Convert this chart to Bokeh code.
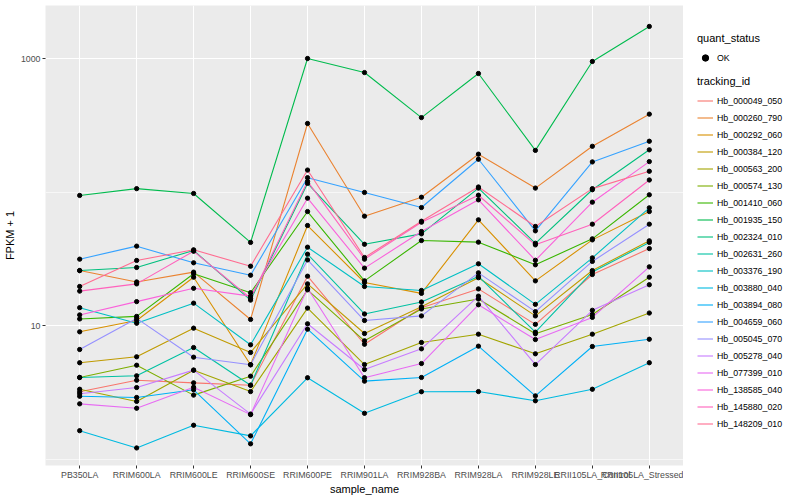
from bokeh.plotting import figure
from bokeh.layouts import row
from bokeh.models import (FactorRange, Range1d, FixedTicker, NumeralTickFormatter,
                          Legend, LegendItem)
from bokeh.embed import file_html
from bokeh.resources import INLINE

samples = ["PB350LA", "RRIM600LA", "RRIM600LE", "RRIM600SE", "RRIM600PE",
           "RRIM901LA", "RRIM928BA", "RRIM928LA", "RRIM928LE",
           "RRII105LA_Control", "RRII105LA_Stressed"]

tracking_ids = ["Hb_000049_050", "Hb_000260_790", "Hb_000292_060", "Hb_000384_120",
                "Hb_000563_200", "Hb_000574_130", "Hb_001410_060", "Hb_001935_150",
                "Hb_002324_010", "Hb_002631_260", "Hb_003376_190", "Hb_003880_040",
                "Hb_003894_080", "Hb_004659_060", "Hb_005045_070", "Hb_005278_040",
                "Hb_077399_010", "Hb_138585_040", "Hb_145880_020", "Hb_148209_010"]

colors = ["#F8766D", "#EA8331", "#D89000", "#C09B00", "#A3A500", "#7CAE00",
          "#39B600", "#00BB4E", "#00BF7D", "#00C1A3", "#00BFC4", "#00BAE0",
          "#00B0F6", "#35A2FF", "#9590FF", "#C77CFF", "#E76BF3", "#FA62DB",
          "#FF62BC", "#FF6C91"]

# FPKM + 1 per sample, one list per tracking_id
hb_000049_050 = [3.19, 3.89, 3.72, 3.57, 23.4, 7.24, 13.6, 18.8, 10.2, 24.1, 37.7]
hb_000260_790 = [25.8, 21.2, 25.1, 11.1, 326, 65.9, 91.4, 192, 107, 220, 383]
hb_000292_060 = [8.97, 10.9, 23.0, 5.08, 56.1, 21.0, 17.4, 61.9, 21.6, 43.8, 71.4]
hb_000384_120 = [5.26, 5.83, 9.55, 6.28, 20.5, 8.71, 13.8, 22.8, 11.8, 25.8, 43.1]
hb_000563_200 = [3.33, 2.70, 4.63, 3.20, 13.5, 5.10, 7.46, 8.61, 6.14, 8.61, 12.4]
hb_000574_130 = [4.08, 5.04, 3.01, 4.17, 18.5, 7.68, 13.3, 15.8, 8.67, 12.1, 23.0]
hb_001410_060 = [11.2, 11.7, 24.4, 17.6, 71.4, 21.6, 43.3, 42.1, 28.5, 44.6, 95.3]
hb_001935_150 = [94.2, 106, 97.5, 41.9, 1000, 785, 361, 772, 205, 950, 1738]
hb_002324_010 = [25.8, 27.2, 36.5, 15.5, 116, 40.6, 48.6, 107, 41.3, 104, 207]
hb_002631_260 = [4.08, 4.20, 6.84, 3.57, 34.2, 12.2, 15.0, 23.3, 8.91, 25.2, 41.9]
hb_003376_190 = [13.6, 10.4, 14.7, 7.17, 38.6, 19.6, 18.3, 29.0, 14.4, 32.1, 76.1]
hb_003880_040 = [1.63, 1.21, 1.79, 1.49, 4.06, 2.20, 3.19, 3.20, 2.73, 3.33, 5.26]
hb_003894_080 = [2.95, 2.89, 3.30, 1.30, 9.38, 3.83, 4.08, 7.00, 2.97, 6.96, 7.89]
hb_004659_060 = [31.4, 39.3, 29.5, 23.8, 128, 99.2, 76.5, 176, 51.2, 168, 240]
hb_005045_070 = [6.61, 11.3, 5.79, 5.08, 31.0, 10.9, 11.8, 24.8, 12.7, 30.2, 57.4]
hb_005278_040 = [3.08, 3.43, 4.63, 2.17, 10.3, 4.68, 6.69, 16.6, 5.10, 13.0, 20.2]
hb_077399_010 = [2.59, 2.40, 3.45, 2.15, 19.0, 4.06, 5.19, 14.3, 7.85, 11.5, 27.5]
hb_138585_040 = [12.0, 15.1, 19.0, 16.6, 89.9, 26.9, 50.6, 87.4, 30.8, 83.9, 169]
hb_145880_020 = [18.1, 20.5, 36.0, 16.0, 120, 31.4, 59.4, 94.6, 40.2, 57.4, 123]
hb_148209_010 = [19.6, 30.7, 36.9, 27.8, 146, 32.3, 60.4, 109, 55.2, 106, 143]

series = [hb_000049_050, hb_000260_790, hb_000292_060, hb_000384_120, hb_000563_200,
          hb_000574_130, hb_001410_060, hb_001935_150, hb_002324_010, hb_002631_260,
          hb_003376_190, hb_003880_040, hb_003894_080, hb_004659_060, hb_005045_070,
          hb_005278_040, hb_077399_010, hb_138585_040, hb_145880_020, hb_148209_010]

FONT = "Liberation Sans"

p = figure(width=683, height=500, output_backend="svg", toolbar_location=None,
           x_range=FactorRange(factors=samples, range_padding=0.1,
                               range_padding_units="absolute"),
           y_range=Range1d(0.894, 2495), y_axis_type="log",
           min_border_left=45, min_border_right=0, min_border_top=5,
           min_border_bottom=35)
p.background_fill_color = "#ebebeb"
p.border_fill_color = "white"
p.outline_line_color = None

for col, vals in zip(colors, series):
    p.line(x=samples, y=vals, line_color=col, line_width=1.1)

px, py = [], []
for vals in series:
    px.extend(samples)
    py.extend(vals)
p.scatter(x=px, y=py, size=4.3, fill_color="black", line_color="black")

# axes
p.yaxis.ticker = FixedTicker(ticks=[10, 1000], minor_ticks=[1, 100])
p.yaxis.formatter = NumeralTickFormatter(format="0")
p.ygrid.ticker = FixedTicker(ticks=[10, 1000], minor_ticks=[1, 100])
p.ygrid.grid_line_color = "white"
p.ygrid.grid_line_width = 1.1
p.ygrid.minor_grid_line_color = "white"
p.ygrid.minor_grid_line_width = 0.6
p.xgrid.grid_line_color = "white"
p.xgrid.grid_line_width = 1.1

for ax in (p.xaxis[0], p.yaxis[0]):
    ax.axis_line_color = None
    ax.major_tick_line_color = "#333333"
    ax.major_tick_out = 3
    ax.major_tick_in = 0
    ax.minor_tick_line_color = None
    ax.major_label_text_font = FONT
    ax.major_label_text_font_size = "8.8px"
    ax.major_label_text_color = "#4d4d4d"
    ax.axis_label_text_font = FONT
    ax.axis_label_text_font_size = "11px"
    ax.axis_label_text_font_style = "normal"
    ax.axis_label_text_color = "black"

p.xaxis.major_label_standoff = 1
p.xaxis.axis_label_standoff = 0
p.yaxis.major_label_standoff = 1
p.yaxis.axis_label_standoff = 2

p.xaxis.axis_label = "sample_name"
p.yaxis.axis_label = "FPKM + 1"
p.xaxis.major_label_orientation = "horizontal"

# legend panel
lf = figure(width=117, height=500, output_backend="svg", toolbar_location=None,
            x_range=Range1d(0, 1), y_range=Range1d(0, 1),
            min_border_left=0, min_border_right=0, min_border_top=0,
            min_border_bottom=0)
lf.axis.visible = False
lf.grid.visible = False
lf.outline_line_color = None
lf.background_fill_color = "white"
lf.border_fill_color = "white"

# dummy renderers (outside the visible range) used only for legend glyphs
ok_r = lf.scatter(x=[-5], y=[-5], size=4.3, fill_color="black", line_color="black")
line_items = []
for tid, col in zip(tracking_ids, colors):
    r = lf.line(x=[-5, -4], y=[-5, -5], line_color=col, line_width=1.1)
    line_items.append(LegendItem(label=tid, renderers=[r]))

leg1 = Legend(items=[LegendItem(label="OK", renderers=[ok_r])],
              title="quant_status", location=(14, 399))
leg2 = Legend(items=line_items, title="tracking_id", location=(14, 33))
for lg in (leg1, leg2):
    lg.orientation = "vertical"
    lg.border_line_color = None
    lg.background_fill_alpha = 0
    lg.padding = 0
    lg.margin = 0
    lg.spacing = 0
    lg.glyph_width = 16
    lg.glyph_height = 17
    lg.label_height = 17
    lg.label_standoff = 4
    lg.label_text_font = FONT
    lg.label_text_font_size = "8.8px"
    lg.label_text_color = "black"
    lg.title_text_font = FONT
    lg.title_text_font_size = "11px"
    lg.title_text_font_style = "normal"
    lg.title_text_color = "black"
    lg.title_standoff = 5
    lf.add_layout(lg, "center")

layout = row(p, lf)
open("out.html", "w").write(file_html(layout, INLINE))
